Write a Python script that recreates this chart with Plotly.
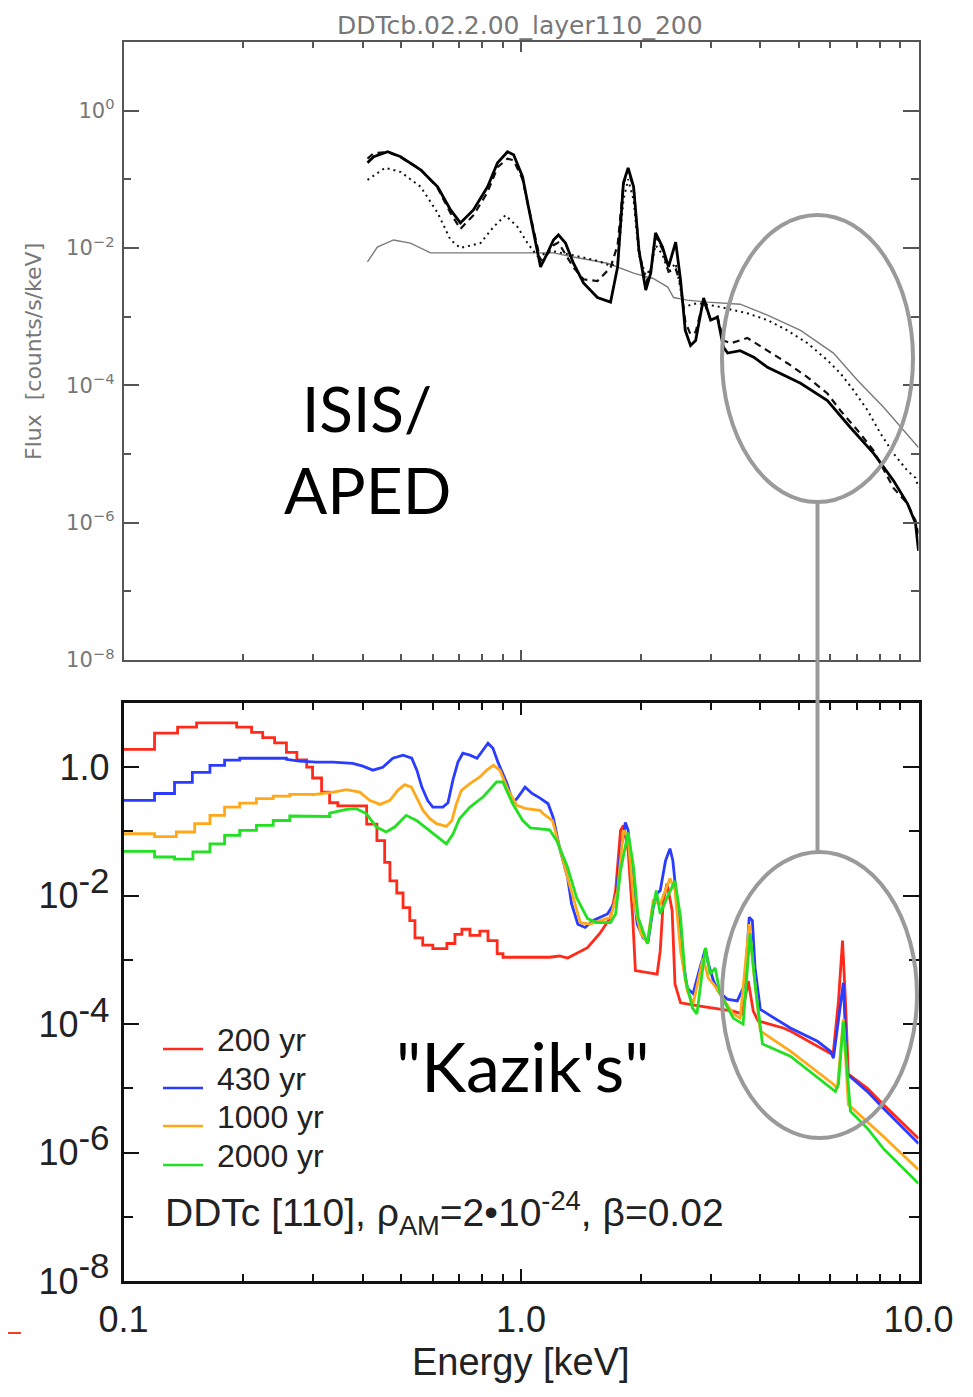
import plotly.graph_objects as go

W, H = 973, 1397
OFF = 8  # page body margin of the browser
FW, FH = W - OFF, H - OFF

# ---------------- bottom panel ("Kazik's") data ----------------
E_200 = [0.1, 0.1197, 0.1368, 0.1527, 0.1926, 0.210, 0.224, 0.240, 0.257, 0.273, 0.289, 0.299,
         0.315, 0.330, 0.346, 0.409, 0.434, 0.454, 0.468, 0.487, 0.505, 0.525, 0.541, 0.566,
         0.600, 0.651, 0.682, 0.710, 0.744, 0.788, 0.826, 0.871, 0.901,
         1.18, 1.25, 1.31, 1.47, 1.58, 1.68, 1.73, 1.78, 1.81, 1.86, 1.91, 1.94, 2.20, 2.24,
         2.28, 2.33, 2.40, 2.44, 2.52, 2.82, 3.42, 3.60, 3.73, 3.84, 3.95, 4.57, 4.76, 6.00,
         6.11, 6.29, 6.44, 6.55, 6.66, 7.44, 8.16, 10.0]
F_200 = [1.9, 3.4, 4.2, 4.9, 4.2, 3.5, 2.9, 2.4, 1.7, 1.3, 1.0, 0.68,
         0.41, 0.28, 0.25, 0.13, 0.072, 0.033, 0.017, 0.011, 0.0065, 0.0041, 0.0022, 0.0017,
         0.0015, 0.0018, 0.0025, 0.003, 0.0024, 0.0028, 0.002, 0.00125, 0.0011,
         0.0011, 0.00115, 0.00107, 0.00155, 0.0026, 0.0046, 0.012, 0.104, 0.124, 0.050, 0.0046,
         0.00068, 0.0006, 0.00138, 0.0083, 0.0155, 0.0059, 0.00042, 0.000214, 0.00019,
         0.000159, 0.000144, 0.00047, 0.000159, 0.000112, 8.7e-5, 7.8e-5, 3.5e-5, 3.8e-5,
         0.00023, 0.002, 0.00023, 1.66e-5, 1.0e-5, 5.6e-6, 1.66e-6]

E_430 = [0.1, 0.1197, 0.1344, 0.149, 0.165, 0.1796, 0.196, 0.220,
         0.257, 0.277, 0.306, 0.336, 0.377, 0.400, 0.424, 0.449, 0.476, 0.505, 0.531, 0.547,
         0.563, 0.583, 0.600, 0.636, 0.655, 0.674, 0.694, 0.714, 0.744, 0.775, 0.802, 0.826,
         0.850, 0.875, 0.922, 0.955, 0.982, 1.024, 1.066, 1.117, 1.17, 1.205, 1.25, 1.31, 1.34,
         1.39, 1.45, 1.52, 1.65, 1.73, 1.78, 1.83, 1.86, 1.91, 1.96, 2.03, 2.09, 2.15, 2.20,
         2.24, 2.31, 2.37, 2.41, 2.47, 2.55, 2.62, 2.71, 2.82, 2.91, 2.96, 3.05, 3.13, 3.30,
         3.50, 3.66, 3.75, 3.82, 3.88, 4.00, 4.17, 4.76, 5.57, 6.00, 6.11, 6.47, 6.62, 7.44,
         8.16, 10.0]
F_430 = [0.305, 0.39, 0.58, 0.83, 1.07, 1.29, 1.38, 1.38,
         1.33, 1.24, 1.2, 1.2, 1.15, 1.04, 0.9, 1.0, 1.38, 1.54, 1.38, 0.9,
         0.49, 0.30, 0.24, 0.24, 0.28, 0.63, 1.2, 1.65, 1.54, 1.38, 1.84, 2.37,
         1.98, 1.2, 0.56, 0.28, 0.34, 0.49, 0.39, 0.33, 0.27, 0.165, 0.056, 0.019, 0.0075,
         0.0036, 0.0032, 0.0041, 0.0052, 0.0083, 0.050, 0.138, 0.104, 0.0155, 0.0036, 0.0022,
         0.002, 0.0065, 0.0108, 0.012, 0.035, 0.054, 0.035, 0.0083, 0.00107, 0.00036, 0.0003,
         0.00075, 0.00148, 0.00087, 0.00047, 0.00033, 0.000245, 0.00023, 0.00042, 0.0046,
         0.0041, 0.00075, 0.00017, 0.000144, 8.7e-5, 5.4e-5, 3.8e-5, 2.95e-5, 0.00044, 1.66e-5,
         8.9e-6, 4.9e-6, 1.38e-6]

E_1000 = [0.1, 0.1197, 0.1358, 0.151, 0.165, 0.1796, 0.196, 0.216, 0.238, 0.262,
          0.300, 0.337, 0.364, 0.393, 0.416, 0.442, 0.468, 0.490, 0.510, 0.530, 0.546, 0.567,
          0.590, 0.613, 0.649, 0.670, 0.688, 0.708, 0.744, 0.788, 0.820, 0.852, 0.885, 0.928,
          0.976, 1.03, 1.117, 1.136, 1.20, 1.31, 1.41, 1.49, 1.68, 1.75, 1.81, 1.86, 1.92, 2.00,
          2.08, 2.15, 2.24, 2.37, 2.44, 2.52, 2.62, 2.71, 2.87, 2.96, 3.05, 3.17, 3.42, 3.56,
          3.75, 3.84, 4.00, 4.76, 6.11, 6.25, 6.47, 6.66, 7.44, 8.16, 10.0]
F_1000 = [0.092, 0.083, 0.098, 0.132, 0.178, 0.24, 0.277, 0.324, 0.356, 0.378,
          0.375, 0.41, 0.448, 0.41, 0.305, 0.264, 0.305, 0.437, 0.536, 0.49, 0.343, 0.213,
          0.158, 0.132, 0.12, 0.148, 0.27, 0.437, 0.556, 0.705, 0.90, 1.07, 0.90, 0.437,
          0.255, 0.226, 0.213, 0.19, 0.148, 0.019, 0.0038, 0.0036, 0.0046, 0.012, 0.104, 0.081,
          0.0083, 0.0026, 0.00186, 0.0083, 0.0075, 0.0185, 0.012, 0.00138, 0.00033, 0.000205,
          0.00107, 0.00052, 0.00042, 0.000295, 0.000144, 0.000124, 0.0036, 0.00075, 7.8e-5,
          3.8e-5, 1.16e-5, 1.0e-5, 0.00012, 5.6e-6, 3.0e-6, 1.78e-6, 5.4e-7]

E_2000 = [0.1, 0.1197, 0.1344, 0.1495, 0.165, 0.1796, 0.196, 0.216, 0.238, 0.262, 0.288,
          0.330, 0.364, 0.385, 0.408, 0.433, 0.458, 0.481, 0.514, 0.546, 0.580, 0.613, 0.649,
          0.675, 0.700, 0.744, 0.802, 0.868, 0.90, 0.953, 1.01, 1.055, 1.18, 1.23, 1.31, 1.38,
          1.47, 1.55, 1.68, 1.73, 1.78, 1.86, 1.92, 1.97, 2.08, 2.14, 2.19, 2.24, 2.33, 2.44,
          2.52, 2.59, 2.70, 2.77, 2.91, 2.99, 3.08, 3.17, 3.42, 3.62, 3.77, 3.88, 4.05, 4.76,
          6.18, 6.29, 6.47, 6.74, 7.44, 8.16, 10.0]
F_2000 = [0.049, 0.040, 0.037, 0.048, 0.064, 0.087, 0.104, 0.124, 0.148, 0.174, 0.171,
          0.193, 0.221, 0.226, 0.19, 0.117, 0.098, 0.117, 0.178, 0.148, 0.11, 0.082, 0.064,
          0.092, 0.158, 0.24, 0.343, 0.59, 0.59, 0.27, 0.148, 0.114, 0.106, 0.072, 0.0274,
          0.0093, 0.0044, 0.0038, 0.0038, 0.0052, 0.0246, 0.096, 0.0274, 0.0046, 0.00178,
          0.0059, 0.012, 0.0052, 0.0093, 0.017, 0.0046, 0.00052, 0.000178, 0.000144, 0.00154,
          0.0006, 0.00075, 0.000295, 0.000124, 1.0e-4, 0.0026, 0.00042, 4.9e-5, 3.16e-5,
          8.9e-6, 1.16e-5, 1.1e-4, 4.4e-6, 2.37e-6, 1.15e-6, 3.3e-7]

# ---------------- top panel (ISIS/APED) data ----------------
E_solid = [0.411, 0.426, 0.462, 0.498, 0.559, 0.617, 0.665, 0.704, 0.759, 0.824, 0.873, 0.925,
           0.958, 1.009, 1.044, 1.087, 1.12, 1.166, 1.207, 1.242, 1.294, 1.355, 1.436, 1.557,
           1.68, 1.75, 1.81, 1.86, 1.92, 1.98, 2.06, 2.12, 2.18, 2.27, 2.35, 2.45, 2.52, 2.59,
           2.67, 2.75, 2.88, 3.00, 3.12, 3.23, 3.31, 3.56, 3.85, 4.17, 5.05, 5.90, 6.74, 7.71,
           8.65, 9.38, 9.83, 10.0]
F_solid = [0.174, 0.213, 0.252, 0.213, 0.138, 0.078, 0.0359, 0.0232, 0.0359, 0.078, 0.174, 0.252,
           0.228, 0.109, 0.0397, 0.0131, 0.0053, 0.0085, 0.0131, 0.0155, 0.0118, 0.006, 0.0031,
           0.0019, 0.00163, 0.0053, 0.089, 0.147, 0.078, 0.0093, 0.00244, 0.0043, 0.0166, 0.0103,
           0.0053, 0.0122, 0.0034, 0.00063, 0.00038, 0.00045, 0.00187, 0.00089, 0.00098, 0.00036,
           0.000295, 0.00032, 0.000257, 0.000183, 0.000107, 6.0e-5, 2.43e-5, 1.02e-5, 4.1e-6,
           1.9e-6, 9.8e-7, 3.9e-7]

E_dashed = [0.411, 0.426, 0.462, 0.498, 0.559, 0.617, 0.665, 0.704, 0.759, 0.824, 0.873, 0.925,
            0.958, 1.009, 1.044, 1.087, 1.12, 1.166, 1.207, 1.242, 1.294, 1.355, 1.436, 1.557,
            1.68, 1.75, 1.81, 1.86, 1.92, 1.98, 2.06, 2.12, 2.18, 2.27, 2.35, 2.45, 2.52, 2.59,
            2.67, 2.75, 2.88, 3.00, 3.12, 3.23, 3.37, 3.71, 4.17, 4.68, 5.26, 5.90, 6.36, 7.03,
            7.71, 8.65, 9.38, 9.83, 10.0]
F_dashed = [0.20, 0.24, 0.25, 0.21, 0.14, 0.075, 0.032, 0.019, 0.030, 0.065, 0.15, 0.20,
            0.19, 0.10, 0.040, 0.014, 0.0065, 0.0082, 0.011, 0.012, 0.008, 0.0052, 0.0035, 0.0033,
            0.0052, 0.011, 0.085, 0.14, 0.075, 0.0095, 0.0030, 0.0048, 0.015, 0.0095, 0.0045,
            0.0050, 0.0030, 0.00085, 0.00055, 0.0006, 0.0017, 0.0009, 0.0010, 0.00045, 0.00041,
            0.00049, 0.00032, 0.00021, 0.000131, 7.6e-5, 4.3e-5, 2.2e-5, 1.12e-5, 3.2e-6, 1.9e-6,
            1.07e-6, 6.9e-7]

E_dotted = [0.411, 0.455, 0.498, 0.559, 0.617, 0.665, 0.704, 0.791, 0.853, 0.914, 0.980, 1.038,
            1.10, 1.20, 1.36, 1.56, 1.68, 1.75, 1.81, 1.86, 1.92, 1.98, 2.06, 2.12, 2.18, 2.27,
            2.35, 2.45, 2.52, 2.56, 2.78, 3.18, 3.43, 3.71, 4.17, 4.68, 5.26, 5.90, 6.36, 6.86,
            7.45, 8.02, 8.65, 9.38, 9.83, 10.0]
F_dotted = [0.098, 0.147, 0.128, 0.078, 0.0325, 0.0131, 0.010, 0.0118, 0.0203, 0.030, 0.0203,
            0.0118, 0.0076, 0.009, 0.0078, 0.0065, 0.0055, 0.006, 0.05, 0.10, 0.05, 0.008, 0.004,
            0.005, 0.011, 0.008, 0.0045, 0.006, 0.0025, 0.00138, 0.00158, 0.00138, 0.00124,
            0.00112, 0.00089, 0.00063, 0.00041, 0.000232, 0.00015, 8.5e-5, 4.3e-5, 2.0e-5,
            1.02e-5, 5.7e-6, 4.5e-6, 3.2e-6]

E_gray = [0.411, 0.435, 0.478, 0.527, 0.592, 0.759, 1.038, 1.207, 1.355, 1.65, 1.92, 2.15, 2.34,
          2.42, 2.62, 2.95, 3.56, 4.17, 5.05, 6.11, 7.03, 8.17, 10.0]
F_gray = [0.0063, 0.0103, 0.0131, 0.0118, 0.0085, 0.0085, 0.0087, 0.0085, 0.0074, 0.006, 0.0043,
          0.0036, 0.0027, 0.0019, 0.00174, 0.00163, 0.00152, 0.00105, 0.00063, 0.000295,
          0.000118, 4.8e-5, 1.24e-5]

series_names = ["200 yr", "430 yr", "1000 yr", "2000 yr"]
series_colors = ["#ff2a1a", "#2a3cff", "#ffa81a", "#22e022"]

x_major = [0.1, 1, 10]
x_major_text = ["0.1", "1.0", "10.0"]
x_minor = [0.2, 0.3, 0.4, 0.5, 0.6, 0.7, 0.8, 0.9, 2, 3, 4, 5, 6, 7, 8, 9]
SUPB = "<sup><span style='font-size:35px'>%s</span></sup>"
yb_major = [1e-8, 1e-6, 1e-4, 1e-2, 1]
yb_major_text = ["10" + SUPB % "-8", "10" + SUPB % "-6", "10" + SUPB % "-4", "10" + SUPB % "-2", "1.0"]
yt_major = [1e-8, 1e-6, 1e-4, 1e-2, 1]
yt_major_text = ["10<sup>\u22128</sup>", "10<sup>\u22126</sup>", "10<sup>\u22124</sup>",
                 "10<sup>\u22122</sup>", "10<sup>0</sup>"]
y_minor = [1e-7, 1e-5, 1e-3, 1e-1]


def px(x):
    return (x - OFF) / FW


def py(y):
    return 1 - (y - OFF) / FH


def stepify(E, F, emax):
    xs, ys = [], []
    n = len(E)
    for i in range(n):
        xs.append(E[i])
        ys.append(F[i])
        if E[i] < emax and i + 1 < n:
            xs.append(E[i + 1])
            ys.append(F[i])
    return xs, ys


fig = go.Figure()

# top panel traces
fig.add_trace(go.Scatter(x=E_gray, y=F_gray, mode="lines", xaxis="x2", yaxis="y2",
                         line=dict(color="#7a7a7a", width=1.4), showlegend=False))
fig.add_trace(go.Scatter(x=E_dotted, y=F_dotted, mode="lines", xaxis="x2", yaxis="y2",
                         line=dict(color="#111", width=2, dash="2px,4px"), showlegend=False))
fig.add_trace(go.Scatter(x=E_dashed, y=F_dashed, mode="lines", xaxis="x2", yaxis="y2",
                         line=dict(color="#111", width=2.2, dash="7px,5px"), showlegend=False))
fig.add_trace(go.Scatter(x=E_solid, y=F_solid, mode="lines", xaxis="x2", yaxis="y2",
                         line=dict(color="#000", width=2.8), showlegend=False))

# bottom panel traces
bottom = [(E_200, F_200, 0.95), (E_430, F_430, 0.23), (E_1000, F_1000, 0.27), (E_2000, F_2000, 0.29)]
for (E, F, lim), name, col in zip(bottom, series_names, series_colors):
    xs, ys = stepify(E, F, lim)
    fig.add_trace(go.Scatter(x=xs, y=ys, mode="lines", name=name, xaxis="x", yaxis="y",
                             line=dict(color=col, width=2.8), showlegend=False))

dom_x = [px(123.5), px(918.5)]
bfont = dict(family="Liberation Sans, Arial, sans-serif", size=36, color="#222")
tfont = dict(family="DejaVu Sans, sans-serif", size=21, color="#777")

fig.update_layout(
    width=FW, height=FH,
    margin=dict(l=0, r=0, t=0, b=0, autoexpand=False),
    paper_bgcolor="white", plot_bgcolor="white",
    showlegend=False,
    xaxis=dict(type="log", range=[-1, 1], domain=dom_x, anchor="y", automargin=False,
               showline=True, linecolor="#111", linewidth=2.5, mirror="ticks",
               ticks="inside", ticklen=12, tickwidth=2, tickcolor="#111",
               tickmode="array", tickvals=x_major, ticktext=x_major_text,
               tickfont=bfont, ticklabelstandoff=5,
               minor=dict(tickmode="array", tickvals=x_minor, ticks="inside", ticklen=7,
                          tickwidth=2, tickcolor="#111"),
               showgrid=False, zeroline=False),
    yaxis=dict(type="log", range=[-8, 1], domain=[py(1281), py(703)], anchor="x", automargin=False,
               showline=True, linecolor="#111", linewidth=2.5, mirror="ticks",
               ticks="inside", ticklen=16, tickwidth=2, tickcolor="#111",
               tickmode="array", tickvals=yb_major, ticktext=yb_major_text,
               tickfont=bfont, ticklabelstandoff=4,
               minor=dict(tickmode="array", tickvals=y_minor, ticks="inside", ticklen=10,
                          tickwidth=2, tickcolor="#111"),
               showgrid=False, zeroline=False),
    xaxis2=dict(type="log", range=[-1, 1], domain=dom_x, anchor="y2", automargin=False,
                showline=True, linecolor="#555", linewidth=1.6, mirror="ticks",
                ticks="inside", ticklen=10, tickwidth=1.5, tickcolor="#555",
                tickmode="array", tickvals=x_major, showticklabels=False,
                minor=dict(tickmode="array", tickvals=x_minor, ticks="inside", ticklen=6,
                           tickwidth=1.5, tickcolor="#555"),
                showgrid=False, zeroline=False),
    yaxis2=dict(type="log", range=[-8, 1], domain=[py(660), py(42)], anchor="x2", automargin=False,
                showline=True, linecolor="#555", linewidth=1.6, mirror="ticks",
                ticks="inside", ticklen=16, tickwidth=1.5, tickcolor="#555",
                tickmode="array", tickvals=yt_major, ticktext=yt_major_text,
                tickfont=tfont, ticklabelstandoff=3,
                minor=dict(tickmode="array", tickvals=y_minor, ticks="inside", ticklen=8,
                           tickwidth=1.5, tickcolor="#555"),
                showgrid=False, zeroline=False),
)

lfont = dict(family="Liberation Sans, Arial, sans-serif", size=32, color="#222")
ann = [
    dict(x=px(520), y=py(9), yanchor="top", text="DDTcb.02.2.00_layer110_200",
         font=dict(family="DejaVu Sans, sans-serif", size=25, color="#777")),
    dict(x=px(33), y=py(352), text="Flux  [counts/s/keV]", textangle=-90,
         font=dict(family="DejaVu Sans, sans-serif", size=22, color="#777")),
    dict(x=px(367), y=py(408), text="ISIS/",
         font=dict(family="Lato, sans-serif", size=62, color="#000")),
    dict(x=px(367), y=py(490), text="APED",
         font=dict(family="Lato, sans-serif", size=64, color="#000")),
    dict(x=px(522), y=py(1065), text="\"Kazik's\"",
         font=dict(family="Lato, sans-serif", size=68, color="#000")),
    dict(x=px(163), y=py(1213), xanchor="left",
         text="DDTc [110], \u03c1<sub>AM</sub>=2\u202210<sup>-24</sup>, \u03b2=0.02",
         font=dict(family="Liberation Sans, Arial, sans-serif", size=39, color="#222")),
    dict(x=px(521), y=py(1362), text="Energy [keV]",
         font=dict(family="Liberation Sans, Arial, sans-serif", size=38, color="#222")),
]
# manual legend (inside lower panel)
leg_text_y = [1040, 1079, 1117, 1156]
for name, ty in zip(series_names, leg_text_y):
    ann.append(dict(x=px(215), y=py(ty), xanchor="left", text=name, font=lfont))
for a in ann:
    a.setdefault("xanchor", "center")
    a.setdefault("yanchor", "middle")
    a.update(xref="paper", yref="paper", showarrow=False)
fig.update_layout(annotations=ann)

grey = "#9a9a9a"
shapes = [
    dict(type="circle", xref="paper", yref="paper", x0=px(722), x1=px(913), y0=py(502), y1=py(215),
         line=dict(color=grey, width=4)),
    dict(type="circle", xref="paper", yref="paper", x0=px(722), x1=px(917), y0=py(1138), y1=py(852),
         line=dict(color=grey, width=4)),
    dict(type="line", xref="paper", yref="paper", x0=px(817.5), x1=px(817.5), y0=py(502), y1=py(852),
         line=dict(color=grey, width=4)),
    dict(type="line", xref="paper", yref="paper", x0=0, x1=px(21), y0=py(1333), y1=py(1333),
         line=dict(color="#f04020", width=2)),
]
for col, ty in zip(series_colors, leg_text_y):
    shapes.append(dict(type="line", xref="paper", yref="paper", x0=px(163), x1=px(203),
                       y0=py(ty + 9), y1=py(ty + 9), line=dict(color=col, width=2.5)))
fig.update_layout(shapes=shapes)

fig.write_html("out.html")
